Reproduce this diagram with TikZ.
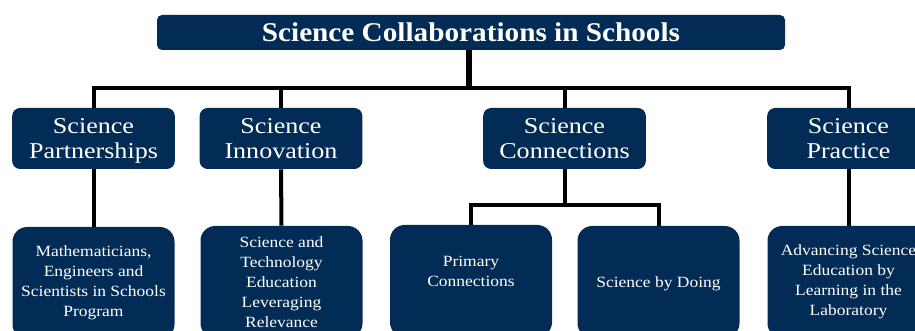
\documentclass[tikz,border=0pt]{standalone}
\usepackage{fontspec}
\setmainfont{Liberation Serif}
\newfontfamily\titlefont[FakeStretch=1.08]{Liberation Serif}
\newfontfamily\midfont[FakeStretch=1.15]{Liberation Serif}
\newfontfamily\leaffont[FakeStretch=1.12]{Liberation Serif}
\definecolor{navy}{RGB}{2,44,86}
\begin{document}
\begin{tikzpicture}[x=0.75pt,y=-0.75pt,
  base/.style={fill=navy, text=white, align=center, inner sep=0pt},
  titlebox/.style={base, minimum width=471pt, minimum height=26.25pt, rounded corners=3.75pt,
    font=\titlefont\fontsize{20.3}{23}\selectfont\bfseries},
  midbox/.style={base, minimum width=122pt, minimum height=45.75pt, rounded corners=6pt,
    font=\midfont\fontsize{17}{18.75}\selectfont},
  leafbox/.style={base, minimum width=121.5pt, minimum height=84pt, rounded corners=11pt,
    font=\leaffont\fontsize{11.7}{15}\selectfont},
  conn/.style={draw=black, line width=3pt},
  trunk/.style={draw=black, line width=4.5pt}]
\clip (0,0) rectangle (915,331);
\useasboundingbox (0,0) rectangle (915,331);
% title
\node[titlebox] (title) at (471,32.5) {Science Collaborations in Schools};
% level 2
\node[midbox] (A) at (93.5,138.5) {Science\\\smash{Partnerships}};
\node[midbox] (B) at (281,138.5) {Science\\Innovation};
\node[midbox] (C) at (564.5,138.5) {Science\\Connections};
\node[midbox] (D) at (848.5,138.5) {Science\\Practice};
% level 3
\node[leafbox] (A1) at (93.5,283) {Mathematicians,\\Engineers and\\Scientists in Schools\\Program};
\node[leafbox] (B1) at (281.5,282) {Science and\\Technology\\Education\\Leveraging\\Relevance};
\node[leafbox] (C1) at (471,281) {Primary\\Connections\\\mbox{}};
\node[leafbox] (C2) at (658.5,282) {\raisebox{-4.3pt}[0pt][0pt]{Science by Doing}};
\node[leafbox] (D1) at (848.5,282) {Advancing Science\\Education by\\Learning in the\\Laboratory};
% connectors
\coordinate (bus) at (469,88);
\coordinate (cbus) at (564.5,205);
\draw[trunk] (title.south -| bus) -- (bus);
\draw[conn] (bus) -| (A.north);
\draw[conn] (bus) -| (B.north);
\draw[conn] (bus) -| (C.north);
\draw[conn] (bus) -| (D.north);
\draw[conn] (A.south) -- (A1.north);
\draw[conn] (B.south) -- (B1.north);
\draw[conn] (D.south) -- (D1.north);
\draw[conn] (C.south) -- (cbus);
\draw[conn] (cbus) -| (C1.north);
\draw[conn] (cbus) -| (C2.north);
\end{tikzpicture}
\end{document}
